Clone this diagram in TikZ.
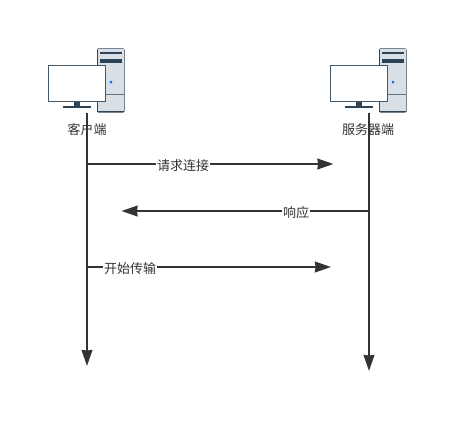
\documentclass[tikz,border=0pt]{standalone}
\usepackage{fontspec}
\setmainfont{Noto Sans CJK SC}
\usetikzlibrary{arrows.meta}
\definecolor{ink}{HTML}{333333}
\definecolor{navy}{HTML}{2F4557}
\definecolor{towerfill}{HTML}{D8DFE5}
\tikzset{
  lifeline/.style={draw=ink,line width=1.6pt,-{Stealth[length=12pt,width=8pt,inset=0.4pt]}},
  msg/.style={draw=ink,line width=1.6pt,-{Stealth[length=12pt,width=8pt,inset=0.4pt]}},
  lbl/.style={font=\fontsize{9.75pt}{11pt}\selectfont,text=ink,inner sep=0.6pt},
  msglbl/.style={lbl,fill=white},
  pc/.pic={
    \fill[rounded corners=0.9pt,navy] (97,48.3) rectangle (124.5,112.5);
    \fill[towerfill] (98,49.3) rectangle (123.5,110.6);
    \fill[navy] (99.8,52) rectangle (121.8,53.6);
    \fill[navy] (99.8,59) rectangle (121.8,62.6);
    \fill[navy!75] (98,93.6) rectangle (123.5,94.6);
    \fill[blue!60!cyan] (111,82) circle (1.5);
    \draw[navy!90,line width=0.9pt,fill=white] (48.5,65.5) rectangle (105.7,101.7);
    \fill[navy] (74,102) rectangle (80,106.2);
    \fill[navy] (63.3,106.2) rectangle (91,107.8);
  }
}
\begin{document}
\begin{tikzpicture}[x=0.75pt,y=-0.75pt]
\useasboundingbox (0,0) rectangle (469,430);
\pic at (0,0) {pc};
\pic at (282,0) {pc};
\node[lbl] (client) at (87,129.5) {客户端};
\node[lbl] (server) at (368,129.5) {服务器端};
\coordinate (ctop) at (87,113);
\coordinate (cend) at (87,366);
\coordinate (stop) at (369,113);
\coordinate (send) at (369,371);
\coordinate (a1) at (87,164);
\coordinate (b1) at (333.5,164);
\coordinate (a2) at (369,211);
\coordinate (b2) at (121.5,211);
\coordinate (a3) at (87,267);
\coordinate (b3) at (331,267);
\draw[lifeline] (ctop) -- (cend);
\draw[lifeline] (stop) -- (send);
\draw[msg] (a1) -- (b1);
\draw[msg] (a2) -- (b2);
\draw[msg] (a3) -- (b3);
\node[msglbl] (m1) at (183,165.5) {请求连接};
\node[msglbl] (m2) at (296,212.5) {响应};
\node[msglbl] (m3) at (130,268.5) {开始传输};
\end{tikzpicture}
\end{document}
